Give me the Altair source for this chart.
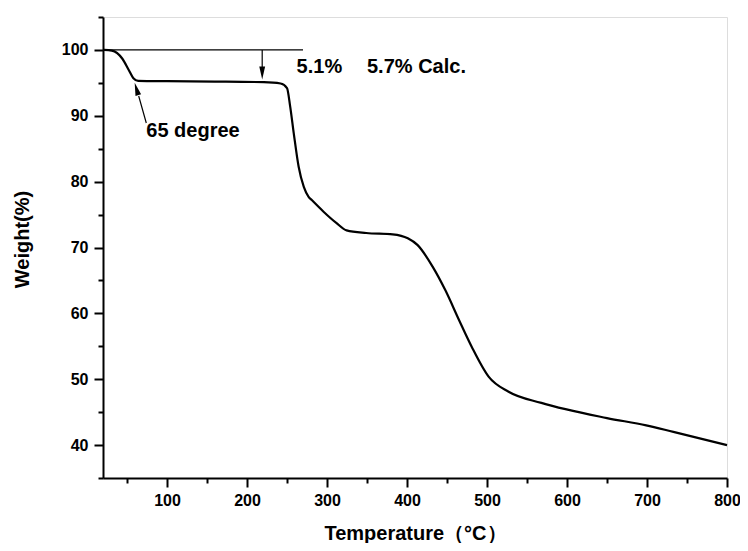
import altair as alt
import pandas as pd

# TGA curve
temps = [21, 31, 44, 52, 58, 64, 100, 160, 221, 242, 250, 254, 258.5, 264.5, 271,
         277, 281, 296, 312, 324.5, 349, 382, 401, 413, 432, 448, 465, 481, 502, 527,
         568, 650, 699, 733, 800]
weights = [100, 99.9, 98.7, 97.0, 95.7, 95.3, 95.25, 95.2, 95.1, 94.9, 94.2, 91.4, 87.3, 82.3, 79.2,
           77.7, 77.2, 75.4, 73.7, 72.6, 72.2, 72.0, 71.4, 70.4, 67.1, 63.5, 59.0, 54.9, 50.4, 48.1,
           46.4, 44.1, 43.0, 42.0, 40.0]

x_major = [100, 200, 300, 400, 500, 600, 700, 800]
x_minor = [50, 150, 250, 350, 450, 550, 650, 750]
y_major = [40, 50, 60, 70, 80, 90, 100]
y_minor = [35, 45, 55, 65, 75, 85, 95, 105]

# annotations
ref_x = [20]
ref_x2 = [270]
ref_y = [100]
arrow_x = [219, 74.1]
arrow_y = [100, 88.9]
arrow_x2 = [219, 64.6]
arrow_y2 = [97.2, 93.0]
head_x = [219, 59.6]
head_y = [95.5, 95.03]
head_angle = [0, 163.8]
label_x = [262, 350, 74.1]
label_y = [96.45, 96.45, 86.8]
label_text = ["5.1%", "5.7% Calc.", "65 degree"]

FONT = "Liberation Sans"
xs = alt.Scale(domain=[20, 800], nice=False, zero=False)
ys = alt.Scale(domain=[35, 105], nice=False, zero=False)

curve_df = pd.DataFrame({"t": temps, "w": weights})
ref_df = pd.DataFrame({"x": ref_x, "x2": ref_x2, "y": ref_y})
arrow_df = pd.DataFrame({"x": arrow_x, "y": arrow_y, "x2": arrow_x2, "y2": arrow_y2})
head_df = pd.DataFrame({"x": head_x, "y": head_y, "a": head_angle})
label_df = pd.DataFrame({"x": label_x, "y": label_y, "label": label_text})

common_axis = dict(domainColor="black", tickColor="black", labelColor="black",
                   titleColor="black", domainWidth=2, tickWidth=2, grid=False,
                   labelFont=FONT, labelFontSize=16, labelFontWeight="bold",
                   titleFont=FONT, titleFontSize=20, titleFontWeight="bold")

x_axis = alt.Axis(values=x_major, orient="bottom", tickSize=9, labelPadding=5,
                  labelFlush=False, title="Temperature（°C）", titleY=61,
                  titleBaseline="alphabetic", **common_axis)
y_axis = alt.Axis(values=y_major, orient="left", tickSize=9, labelPadding=6,
                  title="Weight(%)", titleX=-75, titleY=222, titleAngle=270,
                  titleAlign="center", titleBaseline="alphabetic", **common_axis)
x_axis_minor = alt.Axis(values=x_minor, orient="bottom", tickSize=5, labels=False,
                        domain=False, title=None, tickWidth=2, tickColor="black", grid=False)
y_axis_minor = alt.Axis(values=y_minor, orient="left", tickSize=5, labels=False,
                        domain=False, title=None, tickWidth=2, tickColor="black", grid=False)

curve = alt.Chart(curve_df).mark_line(color="black", strokeWidth=2.2, interpolate="monotone").encode(
    x=alt.X("t:Q", scale=xs, axis=x_axis),
    y=alt.Y("w:Q", scale=ys, axis=y_axis),
)

ref = alt.Chart(ref_df).mark_rule(color="black", strokeWidth=1.2).encode(
    x=alt.X("x:Q", scale=xs, axis=x_axis_minor),
    x2="x2:Q",
    y=alt.Y("y:Q", scale=ys, axis=y_axis_minor),
)

arrows = alt.Chart(arrow_df).mark_rule(color="black", strokeWidth=1.2).encode(
    x=alt.X("x:Q", scale=xs, axis=None),
    x2="x2:Q",
    y=alt.Y("y:Q", scale=ys, axis=None),
    y2="y2:Q",
)

heads = alt.Chart(head_df).mark_point(shape="M-0.45,-2L0.45,-2L0,0Z", filled=True, size=169,
                                       color="black", opacity=1, strokeWidth=0).encode(
    x=alt.X("x:Q", scale=xs, axis=None),
    y=alt.Y("y:Q", scale=ys, axis=None),
    angle=alt.Angle("a:Q", scale=None),
)

labels = alt.Chart(label_df).mark_text(align="left", baseline="alphabetic", font=FONT,
                                       fontSize=20, fontWeight="bold", color="black").encode(
    x=alt.X("x:Q", scale=xs, axis=None),
    y=alt.Y("y:Q", scale=ys, axis=None),
    text="label:N",
)

chart = alt.layer(curve, ref, arrows, heads, labels).resolve_axis(
    x="independent", y="independent"
).properties(
    width=624, height=461,
    autosize=alt.AutoSizeParams(type="none"),
    padding={"left": 95, "top": 9, "right": 13, "bottom": 65},
).configure_view(strokeWidth=0).configure(background="white")

chart.save("out.html", embed_options={"renderer": "svg", "actions": False})
